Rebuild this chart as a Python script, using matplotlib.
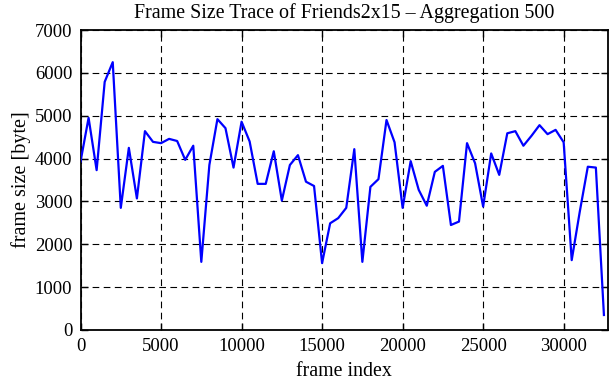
import numpy as np
import matplotlib
matplotlib.use("Agg")
import matplotlib.pyplot as plt

# aggregated frame sizes (one value per 500 frames)
frame_index = np.arange(0, 33000, 500)
frame_size = [
    3930, 4950, 3730, 5790, 6250, 2850, 4250, 3070, 4640, 4390,
    4360, 4460, 4410, 3970, 4300, 1590, 3850, 4920, 4710, 3790,
    4860, 4400, 3410, 3410, 4170, 3020, 3850, 4080, 3460, 3360,
    1560, 2490, 2610, 2850, 4220, 1590, 3340, 3520, 4900, 4380,
    2850, 3940, 3270, 2900, 3690, 3830, 2450, 2530, 4360, 3890,
    2880, 4120, 3620, 4590, 4640, 4300, 4530, 4780, 4570, 4670,
    4380, 1630, 2760, 3810, 3790, 350,
]
x_ticks = [0, 5000, 10000, 15000, 20000, 25000, 30000]
y_ticks = [0, 1000, 2000, 3000, 4000, 5000, 6000, 7000]

plt.rcParams["font.family"] = ["Liberation Serif", "DejaVu Serif"]

fig = plt.figure(figsize=(6.11, 3.80), dpi=100)
ax = fig.add_axes([0.1318, 0.1316, 0.8632, 0.7894])

ax.plot(frame_index, frame_size, color="#0000ff", linewidth=1.6, zorder=3)

ax.set_xlim(0, 32750)
ax.set_ylim(0, 7000)
ax.set_xticks(x_ticks)
ax.set_yticks(y_ticks)

ax.grid(True, color="black", linewidth=0.8, linestyle=(0, (6, 4)))
ax.tick_params(direction="in", length=5, width=1.0, top=True, right=True,
               labelsize=13.5, pad=6)
for spine in ax.spines.values():
    spine.set_linewidth(1.3)

ax.set_title("Frame Size Trace of Friends2x15 – Aggregation 500", fontsize=14.4, pad=9)
ax.set_xlabel("frame index", fontsize=14.3, labelpad=5)
ax.set_ylabel("frame size [byte]", fontsize=14.5, labelpad=3)

fig.savefig("out.png", dpi=100)
